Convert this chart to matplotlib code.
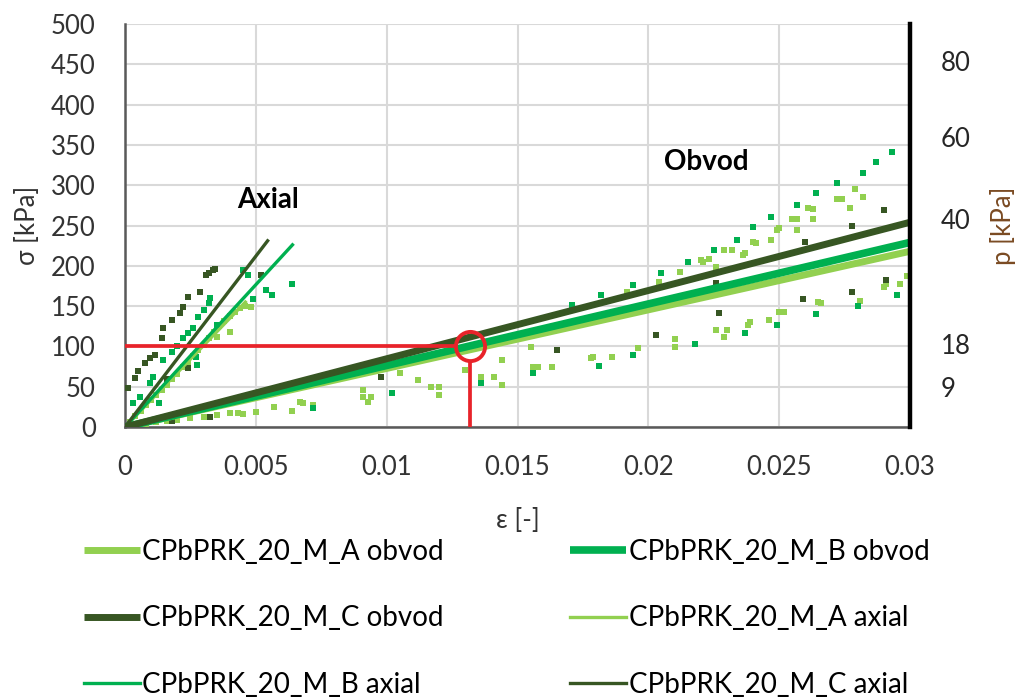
import matplotlib
matplotlib.use("Agg")
import matplotlib.pyplot as plt

plt.rcParams["font.family"] = ["Lato", "DejaVu Sans"]

COL_A = "#92D050"
COL_B = "#00B050"
COL_C = "#375623"
RED = "#E8232A"

# trend lines (x, sigma)
obvod_x = [0.0, 0.03]
obvod_A = [0.0, 218.0]
obvod_B = [0.0, 229.0]
obvod_C = [0.0, 254.0]
axial_A_x = [0.0, 0.0046]
axial_A = [0.0, 155.0]
axial_B_x = [0.0, 0.0064]
axial_B = [0.0, 226.0]
axial_C_x = [0.0, 0.00545]
axial_C = [0.0, 231.0]

# measured points, obvod
obv_A_x = [0.0008, 0.0012, 0.0016, 0.002, 0.0025, 0.003, 0.0035, 0.004, 0.0043, 0.0045,
           0.005, 0.0057, 0.0064, 0.0067, 0.0068, 0.0072, 0.0091, 0.0091, 0.0093, 0.0094,
           0.0105, 0.0112, 0.0117, 0.012, 0.012, 0.013, 0.0136, 0.0141, 0.0144, 0.0144,
           0.0155, 0.0156, 0.0158, 0.0163, 0.0178, 0.0179, 0.0186, 0.0196, 0.021, 0.021,
           0.0192, 0.0204, 0.0212, 0.0221, 0.022, 0.0223, 0.0226, 0.0229, 0.0232, 0.0236,
           0.0237, 0.024, 0.0241, 0.0247, 0.0249, 0.025, 0.0255, 0.0257, 0.0257, 0.0261,
           0.0263, 0.0263, 0.0272, 0.0274, 0.0277, 0.0279, 0.0282, 0.029, 0.0291, 0.0296,
           0.0299, 0.0278, 0.0281, 0.0265, 0.0266, 0.025, 0.0252, 0.0239, 0.0238, 0.0246,
           0.0226, 0.023, 0.0229]
obv_A_y = [4, 6, 8, 9, 11, 13, 15, 17, 17, 16,
           19, 25, 20, 31, 30, 27, 46, 37, 31, 37,
           67, 58, 50, 50, 40, 71, 62, 62, 83, 52,
           99, 75, 75, 74, 86, 87, 87, 98, 109, 99,
           168, 180, 192, 205, 207, 208, 199, 220, 220, 213,
           216, 230, 228, 232, 245, 247, 258, 258, 244, 272,
           270, 258, 283, 283, 272, 295, 285, 174, 177, 177,
           187, 168, 156, 155, 154, 143, 143, 130, 127, 133,
           120, 120, 112]
obv_B_x = [0.0072, 0.0102, 0.0136, 0.0156, 0.0171, 0.0181, 0.0182, 0.0194, 0.0194, 0.0205,
           0.0215, 0.0218, 0.0225, 0.0234, 0.024, 0.0247, 0.0249, 0.0237, 0.0257, 0.0264,
           0.0264, 0.0272, 0.028, 0.0282, 0.0287, 0.0293, 0.0295]
obv_B_y = [24, 42, 55, 67, 151, 76, 164, 176, 89, 191,
           205, 103, 220, 232, 248, 260, 127, 117, 275, 290,
           140, 303, 150, 315, 329, 341, 164]
obv_C_x = [0.0018, 0.00325, 0.0098, 0.0165, 0.0203, 0.0226, 0.0227, 0.026, 0.0259, 0.0278,
           0.0278, 0.029, 0.0291]
obv_C_y = [8, 12, 62, 95, 114, 179, 141, 230, 159, 249,
           168, 269, 182]

# measured points, axial
ax_A_x = [0.0002, 0.0004, 0.0006, 0.0008, 0.001, 0.0012, 0.0014, 0.0016, 0.0018, 0.002,
          0.0022, 0.0024, 0.0026, 0.0028, 0.003, 0.0032, 0.0034, 0.0035, 0.0036, 0.0038,
          0.004, 0.004, 0.0042, 0.0044, 0.0046, 0.0048]
ax_A_y = [6, 14, 20, 27, 33, 40, 46, 52, 60, 66,
          74, 80, 88, 95, 102, 110, 118, 112, 125, 132,
          138, 118, 143, 148, 150, 149]
ax_B_x = [0.0003, 0.00057, 0.00096, 0.00108, 0.0013, 0.00146, 0.0018, 0.002, 0.0022, 0.0024,
          0.0026, 0.0027, 0.00276, 0.0028, 0.003, 0.0032, 0.00325, 0.0035, 0.0045, 0.0047,
          0.0049, 0.0054, 0.0056, 0.0064]
ax_B_y = [30, 37, 55, 62, 30, 83, 93, 101, 110, 117,
          123, 87, 77, 137, 145, 154, 160, 127, 195, 188,
          159, 170, 164, 178]
ax_C_x = [0.0001, 0.0004, 0.0005, 0.00076, 0.00096, 0.00115, 0.0014, 0.00145, 0.0016, 0.0018,
          0.0021, 0.0022, 0.0024, 0.0024, 0.00287, 0.0031, 0.0032, 0.00335, 0.00344, 0.0052]
ax_C_y = [48, 61, 69, 79, 86, 89, 110, 123, 60, 133,
          141, 149, 161, 73, 168, 188, 191, 195, 196, 189]

x_ticks = [0, 0.005, 0.01, 0.015, 0.02, 0.025, 0.03]
x_tick_labels = ["0", "0.005", "0.01", "0.015", "0.02", "0.025", "0.03"]
y_ticks = list(range(0, 501, 50))
p_ticks = [50, 103, 258, 360, 454]
p_tick_labels = ["9", "18", "40", "60", "80"]
red_point = (0.0132, 100)

fig = plt.figure(figsize=(10.21, 7.0), dpi=100)
ax = fig.add_axes([125 / 1021, 1 - 427 / 700, 785 / 1021, 403 / 700])

sq = dict(marker="s", s=14, linewidths=0, zorder=3)
ax.scatter(obv_A_x, obv_A_y, color=COL_A, **sq)
ax.scatter(obv_B_x, obv_B_y, color=COL_B, **sq)
ax.scatter(obv_C_x, obv_C_y, color=COL_C, **sq)
ax.scatter(ax_A_x, ax_A_y, color=COL_A, **sq)
ax.scatter(ax_B_x, ax_B_y, color=COL_B, **sq)
ax.scatter(ax_C_x, ax_C_y, color=COL_C, **sq)

l_oa, = ax.plot(obvod_x, obvod_A, color=COL_A, lw=5, zorder=4, solid_capstyle="butt")
l_ob, = ax.plot(obvod_x, obvod_B, color=COL_B, lw=5.5, zorder=5, solid_capstyle="butt")
l_oc, = ax.plot(obvod_x, obvod_C, color=COL_C, lw=5, zorder=6, solid_capstyle="butt")
l_aa, = ax.plot(axial_A_x, axial_A, color=COL_A, lw=2.4, zorder=4)
l_ab, = ax.plot(axial_B_x, axial_B, color=COL_B, lw=2.4, zorder=5)
l_ac, = ax.plot(axial_C_x, axial_C, color=COL_C, lw=2.4, zorder=6)

# red marker
rx, ry = red_point
ax.plot([0, rx - 0.00055], [ry, ry], color=RED, lw=2.7, zorder=7, solid_capstyle="butt")
ax.plot([rx, rx], [0, ry - 19], color=RED, lw=2.7, zorder=7, solid_capstyle="butt")
ax.plot([rx], [ry], marker="o", ms=21, mfc="none", mec=RED, mew=2.8, zorder=8)

ax.text(0.00546, 282, "Axial", fontsize=20, fontweight="bold", ha="center", va="center")
ax.text(0.0222, 329, "Obvod", fontsize=20, fontweight="bold", ha="center", va="center")

ax.set_xlim(0, 0.03)
ax.set_ylim(0, 500)
ax.set_xticks(x_ticks)
ax.set_xticklabels(x_tick_labels)
ax.set_yticks(y_ticks)
ax.grid(True, color="#D9D9D9", lw=1.5, zorder=0)
ax.set_axisbelow(True)
ax.tick_params(axis="both", length=0, labelsize=18.5, colors="#333333")
ax.tick_params(axis="y", pad=21)
ax.tick_params(axis="x", pad=20)
ax.set_xlabel("ε [-]", fontsize=18.5, color="#333333", labelpad=20)
ax.set_ylabel("σ [kPa]", fontsize=18.5, color="#333333", labelpad=8)
ax.spines["top"].set_visible(False)
ax.spines["left"].set_color("#595959")
ax.spines["left"].set_linewidth(1.8)
ax.spines["bottom"].set_color("#595959")
ax.spines["bottom"].set_linewidth(1.8)
ax.spines["right"].set_visible(False)

ax2 = ax.twinx()
ax2.set_ylim(0, 500)
ax2.set_yticks(p_ticks)
ax2.set_yticklabels(p_tick_labels)
ax2.tick_params(axis="y", length=0, labelsize=18.5, colors="#262626", pad=22)
ax2.spines["right"].set_color("black")
ax2.spines["right"].set_linewidth(3.2)
for s in ["top", "left", "bottom"]:
    ax2.spines[s].set_visible(False)
ax2.set_ylabel("p [kPa]", fontsize=18.5, color="#7A4A22", labelpad=14)

handles = [l_oa, l_oc, l_ab, l_ob, l_aa, l_ac]
labels = ["CPbPRK_20_M_A obvod", "CPbPRK_20_M_C obvod", "CPbPRK_20_M_B axial",
          "CPbPRK_20_M_B obvod", "CPbPRK_20_M_A axial", "CPbPRK_20_M_C axial"]
fig.legend(handles, labels, loc="upper left", bbox_to_anchor=(84 / 1021, 1 - 539 / 700),
           ncol=2, frameon=False, fontsize=20, handlelength=2.0, handletextpad=0.1,
           columnspacing=4.55, labelspacing=1.45, borderpad=0, borderaxespad=0)

fig.savefig("out.png", dpi=100)
